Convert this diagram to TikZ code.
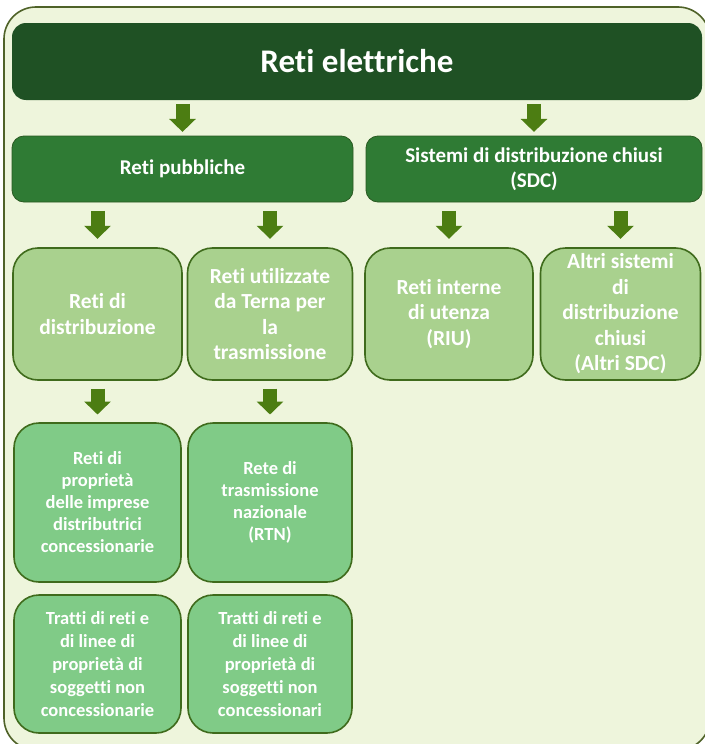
\documentclass[tikz,border=0pt]{standalone}
\usepackage{fontspec}
\setmainfont{Carlito}[Ligatures={NoCommon}]
\usetikzlibrary{arrows.meta,calc}
\definecolor{framefill}{HTML}{EEF5DC}
\definecolor{frameline}{HTML}{4F6228}
\definecolor{titlefill}{HTML}{1F5124}
\definecolor{lvltwo}{HTML}{2F7B34}
\definecolor{lvltwoline}{HTML}{2A5A22}
\definecolor{lvlthree}{HTML}{A9D18E}
\definecolor{lvlfour}{HTML}{80CB87}
\definecolor{boxline}{HTML}{3F6B1C}
\definecolor{arrowc}{HTML}{4C7D12}
\tikzset{
  framebox/.style={draw=frameline, line width=1.6pt, fill=framefill, rounded corners=32pt, inner sep=0pt},
  titlebox/.style={fill=titlefill, rounded corners=14pt, text=white, inner sep=0pt,
    font=\bfseries\fontsize{33}{40}\selectfont},
  twobox/.style={fill=lvltwo, draw=lvltwoline, line width=0.8pt, rounded corners=12pt, text=white, align=center,
    inner sep=0pt, minimum height=66pt, font=\bfseries\fontsize{21}{25.5}\selectfont},
  threebox/.style={fill=lvlthree, draw=boxline, line width=1.6pt, rounded corners=25pt, text=white, align=center,
    inner sep=0pt, minimum height=132pt, font=\bfseries\fontsize{21.5}{25.5}\selectfont},
  fourbox/.style={fill=lvlfour, draw=boxline, line width=1.6pt, rounded corners=25pt, text=white, align=center,
    inner sep=0pt, font=\bfseries\fontsize{18.5}{22}\selectfont},
  fivebox/.style={fourbox, font=\bfseries\fontsize{18.5}{23}\selectfont},
  bigarrow/.style={draw=arrowc, line width=14pt, -{Triangle[width=26pt,length=13pt]}},
}
\begin{document}
\begin{tikzpicture}[x=1pt,y=-1pt]
\useasboundingbox (0,0) rectangle (704,744);
\fill[white] (0,0) rectangle (704,744);
\node[framebox, minimum width=706pt, minimum height=743pt] (frame) at (357,378.5) {};
\node[titlebox, minimum width=690pt, minimum height=77pt] (title) at (357,61.5) {Reti elettriche};
\node[twobox, minimum width=341pt] (pub) at (182.5,169) {Reti pubbliche};
\node[twobox, minimum width=336pt] (sdc) at (534,169) {Sistemi di distribuzione chiusi\\(SDC)};
\node[threebox, minimum width=169pt] (dist) at (97.5,314) {Reti di\\distribuzione};
\node[threebox, minimum width=165pt] (terna) at (270,314) {Reti utilizzate\\da Terna per\\la\\trasmissione};
\node[threebox, minimum width=168pt] (riu) at (449,314) {Reti interne\\di utenza\\(RIU)};
\node[threebox, minimum width=160pt] (altri) at (620.5,314) {Altri sistemi\\di\\distribuzione\\chiusi\\(Altri SDC)};
\node[fourbox, minimum width=167pt, minimum height=159pt] (prop) at (97.5,502.5) {Reti di\\propriet\`a\\delle imprese\\distributrici\\concessionarie};
\node[fourbox, minimum width=164pt, minimum height=159pt] (rtn) at (270,502.5) {Rete di\\trasmissione\\nazionale\\(RTN)};
\node[fivebox, minimum width=167pt, minimum height=138pt] (tra) at (97.5,664) {Tratti di reti e\\di linee di\\propriet\`a di\\soggetti non\\concessionarie};
\node[fivebox, minimum width=164pt, minimum height=138pt] (trb) at (270,664) {Tratti di reti e\\di linee di\\propriet\`a di\\soggetti non\\concessionari};
% arrows
\draw[bigarrow] ($(title.south -| pub.north)!0.5!(pub.north)+(0,-14)$) -- ++(0,28);
\draw[bigarrow] ($(title.south -| sdc.north)!0.5!(sdc.north)+(0,-14)$) -- ++(0,28);
\draw[bigarrow] ($(pub.south -| dist.north)!0.5!(dist.north)+(0,-14)$) -- ++(0,28);
\draw[bigarrow] ($(pub.south -| terna.north)!0.5!(terna.north)+(0,-14)$) -- ++(0,28);
\draw[bigarrow] ($(sdc.south -| riu.north)!0.5!(riu.north)+(0,-14)$) -- ++(0,28);
\draw[bigarrow] ($(sdc.south -| altri.north)!0.5!(altri.north)+(0,-14)$) -- ++(0,28);
\draw[bigarrow] ($(dist.south -| prop.north)!0.5!(prop.north)+(0,-13)$) -- ++(0,26);
\draw[bigarrow] ($(terna.south -| rtn.north)!0.5!(rtn.north)+(0,-13)$) -- ++(0,26);
\end{tikzpicture}
\end{document}
